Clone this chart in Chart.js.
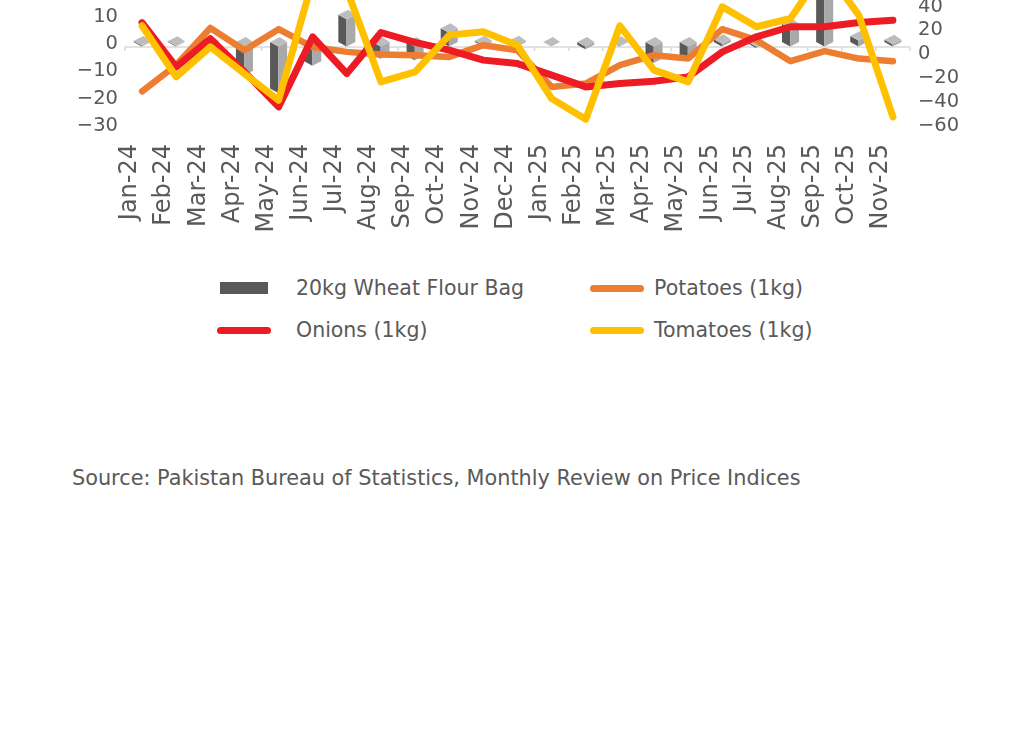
<!DOCTYPE html>
<html>
<head>
<meta charset="utf-8">
<script src="https://cdn.jsdelivr.net/npm/chart.js@4.4.1/dist/chart.umd.min.js"></script>
<style>
  body { margin: 0; background: #fff; width: 1036px; height: 749px; overflow: hidden; position: relative; font-family: "DejaVu Sans", sans-serif; color: #595959; }
  #wrap { position: absolute; left: 0; top: -85px; width: 1036px; height: 323px; }
  #legend { position: absolute; left: 217px; top: 267px; display: grid; grid-template-columns: 373px auto; grid-auto-rows: 42px; font-size: 20.5px; }
  .item { display: flex; align-items: center; white-space: nowrap; }
  .sw { width: 54px; height: 12px; position: relative; flex: none; }
  #source { position: absolute; left: 72px; top: 466px; font-size: 20.8px; white-space: nowrap; }
</style>
</head>
<body>
<div id="wrap"><canvas id="price-chart"></canvas></div>
<div id="legend"></div>
<div id="source">Source: Pakistan Bureau of Statistics, Monthly Review on Price Indices</div>
<script>
const months = ["Jan-24", "Feb-24", "Mar-24", "Apr-24", "May-24", "Jun-24", "Jul-24", "Aug-24", "Sep-24", "Oct-24", "Nov-24", "Dec-24",
    "Jan-25", "Feb-25", "Mar-25", "Apr-25", "May-25", "Jun-25", "Jul-25", "Aug-25", "Sep-25", "Oct-25", "Nov-25"];

// % change, left axis
const wheatFlour = [0.4, 0.3, 0.5, -10.5, -17, -7, 10, -4.5, -5, 5, 0.5, 0.5, 0, -1, 0.3, -6, -5, 1, -0.5, 6.7, 22, 2.2, 0.8];

// % change, right axis
const potatoes = [-31, -9, 22, 3.4, 21, 6, 2, -0.2, -0.8, -2.2, 7.6, 3.4, -27.3, -24.5, -9.1, -0.8, -3.6, 21, 11.8, -5.8, 2.6, -3.6, -5.8];
const onions = [26.5, -10.6, 13, -14.7, -44, 14.6, -16.2, 18.2, 10, 3.4, -4.9, -7.8, -17.5, -27.3, -24.5, -22.5, -18.9, 2, 14.6, 23, 23, 26.5, 28.5];
const tomatoes = [23.8, -18.9, 6.2, -16.2, -38.4, 62, 54, -23.1, -14.7, 16, 18.8, 7.6, -37.1, -54.4, 23.8, -13.3, -23.1, 39.7, 23, 29.9, 72, 32.7, -52.4];

const leftTicks = [-30, 40, 10];   // min, max, step
const rightTicks = [-60, 100, 20];

const textColor = "#595959";

function minusLabel(value) {
    return value < 0 ? "\u2212" + Math.abs(value) : String(value);
}

// fake 3d columns like the excel original
const columns3d = {
    id: "columns3d",
    afterDatasetDraw(chart, args) {
        if (args.meta.type !== "bar") return;
        const ctx = chart.ctx;
        const xScale = chart.scales.x;
        const zero = chart.scales.y.getPixelForValue(0);
        ctx.save();

        // floor line with small category ticks
        ctx.strokeStyle = "#d9d9d9";
        ctx.lineWidth = 1.5;
        ctx.beginPath();
        ctx.moveTo(chart.chartArea.left, zero + 3);
        ctx.lineTo(chart.chartArea.right, zero + 3);
        const step = xScale.width / months.length;
        for (let i = 0; i <= months.length; i++) {
            const tx = chart.chartArea.left + i * step;
            ctx.moveTo(tx, zero + 3);
            ctx.lineTo(tx, zero + 7);
        }
        ctx.stroke();

        args.meta.data.forEach((bar) => {
            const w = bar.width;
            const lv = Math.min(bar.y, bar.base) - 2;
            const bottom = Math.max(bar.y, bar.base) - 2;
            const xL = bar.x - w / 2, xR = bar.x + w / 2;
            const xB = bar.x - w * 0.02, xT = bar.x + w * 0.08;

            ctx.fillStyle = "#595959";
            ctx.beginPath();
            ctx.moveTo(xL, lv);
            ctx.lineTo(xB, lv + 4.5);
            ctx.lineTo(xB, bottom + 4.5);
            ctx.lineTo(xL, bottom);
            ctx.closePath();
            ctx.fill();

            ctx.fillStyle = "#a9a9a9";
            ctx.beginPath();
            ctx.moveTo(xB, lv + 4.5);
            ctx.lineTo(xR, lv);
            ctx.lineTo(xR, bottom);
            ctx.lineTo(xB, bottom + 4.5);
            ctx.closePath();
            ctx.fill();

            ctx.fillStyle = "#bdbdbd";
            ctx.beginPath();
            ctx.moveTo(xL, lv);
            ctx.lineTo(xT, lv - 5);
            ctx.lineTo(xR, lv);
            ctx.lineTo(xB, lv + 4.5);
            ctx.closePath();
            ctx.fill();
        });
        ctx.restore();
    }
};

const chartCanvas = document.querySelector("#price-chart");

const priceChart = new Chart(chartCanvas, {
    type: "bar",
    data: {
        labels: months,
        datasets: [
            {
                type: "bar",
                label: "20kg Wheat Flour Bag",
                data: wheatFlour,
                yAxisID: "y",
                backgroundColor: "rgba(0,0,0,0)",
                legendColor: "#595959",
                categoryPercentage: 1,
                barPercentage: 0.5,
                order: 4,
            },
            {
                type: "line",
                label: "Potatoes (1kg)",
                data: potatoes,
                yAxisID: "y1",
                borderColor: "#ed7d31",
                borderWidth: 6.5,
                pointRadius: 0,
                borderJoinStyle: "round",
                borderCapStyle: "round",
                order: 3,
            },
            {
                type: "line",
                label: "Onions (1kg)",
                data: onions,
                yAxisID: "y1",
                borderColor: "#ed1c24",
                borderWidth: 7,
                pointRadius: 0,
                borderJoinStyle: "round",
                borderCapStyle: "round",
                order: 2,
            },
            {
                type: "line",
                label: "Tomatoes (1kg)",
                data: tomatoes,
                yAxisID: "y1",
                borderColor: "#ffc000",
                borderWidth: 7,
                pointRadius: 0,
                borderJoinStyle: "round",
                borderCapStyle: "round",
                order: 1,
            },
        ]
    },
    options: {
        responsive: true,
        maintainAspectRatio: false,
        animation: false,
        layout: { padding: { top: 12, left: 0, right: 0, bottom: 0 } },
        plugins: {
            legend: { display: false },
            tooltip: { enabled: false },
        },
        scales: {
            x: {
                grid: { display: false, drawTicks: false },
                border: { display: false },
                ticks: {
                    color: textColor,
                    font: { family: "DejaVu Sans", size: 24 },
                    minRotation: 90,
                    maxRotation: 90,
                    autoSkip: false,
                    padding: 18,
                    labelOffset: -12,
                },
                afterFit(scale) { scale.height = 112; },
            },
            y: {
                position: "left",
                min: leftTicks[0],
                max: leftTicks[1],
                grid: { display: false, drawTicks: false },
                border: { display: false },
                ticks: {
                    stepSize: leftTicks[2],
                    autoSkip: false,
                    color: textColor,
                    font: { family: "DejaVu Sans", size: 19.5 },
                    padding: 7,
                    callback: minusLabel,
                },
                afterFit(scale) { scale.width = 125; },
            },
            y1: {
                position: "right",
                min: rightTicks[0],
                max: rightTicks[1],
                grid: { display: false, drawTicks: false },
                border: { display: false },
                ticks: {
                    stepSize: rightTicks[2],
                    autoSkip: false,
                    color: textColor,
                    font: { family: "DejaVu Sans", size: 19.5 },
                    padding: 8,
                    callback: minusLabel,
                },
                afterFit(scale) { scale.width = 126; },
            },
        }
    },
    plugins: [columns3d]
});

// legend in two columns, built from the datasets
const legendBox = document.querySelector("#legend");
const legendOrder = [0, 1, 2, 3];
legendOrder.forEach((index, pos) => {
    const ds = priceChart.data.datasets[index];
    const item = document.createElement("div");
    item.className = "item";
    const sw = document.createElement("div");
    sw.className = "sw";
    sw.style.marginRight = pos % 2 === 0 ? "25px" : "10px";
    const mark = document.createElement("div");
    mark.style.position = "absolute";
    if (ds.type === "bar") {
        Object.assign(mark.style, { left: "3px", top: "0px", width: "48px", height: "12px", background: ds.legendColor });
    } else {
        Object.assign(mark.style, { left: "0px", top: "2.5px", width: "54px", height: "7px", borderRadius: "4px", background: ds.borderColor });
    }
    sw.appendChild(mark);
    const label = document.createElement("span");
    label.textContent = ds.label;
    item.appendChild(sw);
    item.appendChild(label);
    legendBox.appendChild(item);
});
</script>
</body>
</html>
